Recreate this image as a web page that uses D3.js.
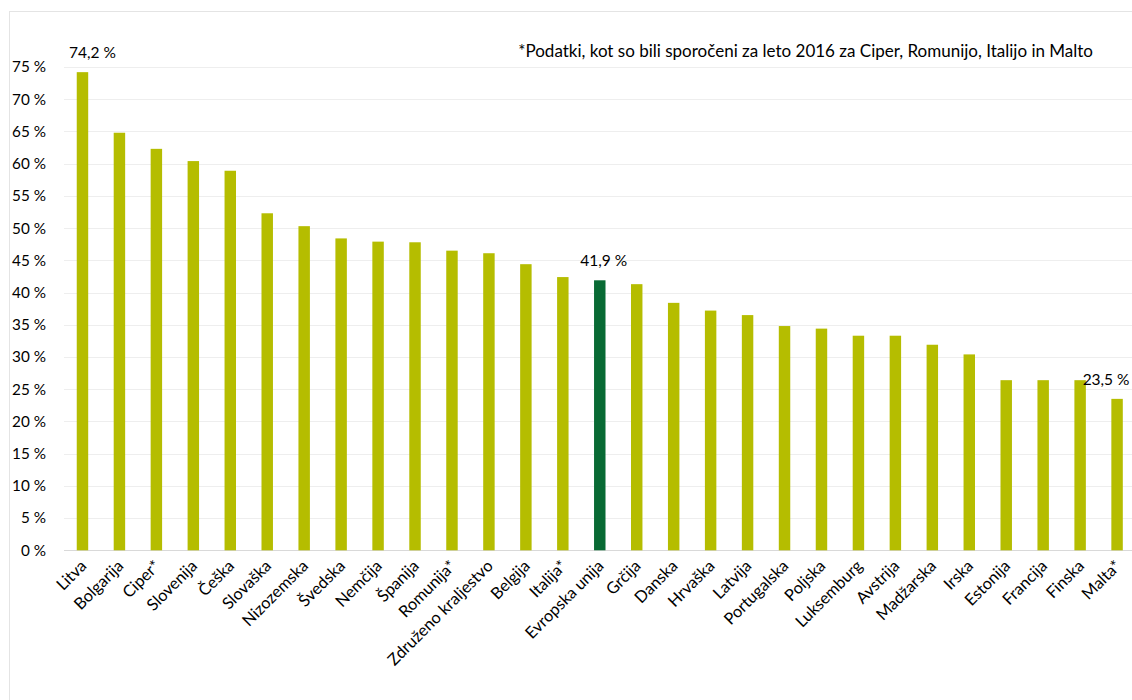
<!DOCTYPE html>
<html>
<head>
<meta charset="utf-8">
<script src="https://cdn.jsdelivr.net/npm/d3@7"></script>
<style>
  body { margin: 0; background: #fff; }
  text { font-family: Lato, "Open Sans", sans-serif; fill: #000; }
</style>
</head>
<body>
<div id="chart"></div>
<script>
const width = 1132;
const height = 700;

// data
const countries = ["Litva", "Bolgarija", "Ciper*", "Slovenija", "Češka", "Slovaška", "Nizozemska",
  "Švedska", "Nemčija", "Španija", "Romunija*", "Združeno kraljestvo", "Belgija", "Italija*",
  "Evropska unija", "Grčija", "Danska", "Hrvaška", "Latvija", "Portugalska", "Poljska",
  "Luksemburg", "Avstrija", "Madžarska", "Irska", "Estonija", "Francija", "Finska", "Malta*"];
const shares = [74.2, 64.8, 62.3, 60.4, 58.9, 52.3, 50.3, 48.4, 47.9, 47.8, 46.5, 46.1, 44.4, 42.4,
  41.9, 41.3, 38.4, 37.2, 36.5, 34.8, 34.4, 33.3, 33.3, 31.9, 30.4, 26.4, 26.4, 26.4, 23.5];
const yTicks = [0, 5, 10, 15, 20, 25, 30, 35, 40, 45, 50, 55, 60, 65, 70, 75];
const labelled = ["Litva", "Evropska unija", "Malta*"];
const highlight = "Evropska unija";
const note = "*Podatki, kot so bili sporočeni za leto 2016 za Ciper, Romunijo, Italijo in Malto";

const margin = {top: 67, left: 64, bottom: 150};
const plotW = 36.95 * countries.length;

const svg = d3.select("#chart")
    .append("svg")
    .attr("width", width)
    .attr("height", height);

// chart frame
svg.append("rect")
    .attr("x", 9.5).attr("y", 11.5)
    .attr("width", width + 20).attr("height", height)
    .attr("fill", "none")
    .attr("stroke", "#e4e4e4");

const x = d3.scaleBand()
    .domain(countries)
    .range([margin.left, margin.left + plotW])
    .paddingInner(0.69)
    .paddingOuter(0.345);

const y = d3.scaleLinear()
    .domain([0, 75])
    .range([550.3, margin.top]);

// gridlines
svg.append("g")
    .selectAll("line")
    .data(yTicks)
    .enter().append("line")
    .attr("x1", margin.left)
    .attr("x2", width)
    .attr("y1", d => Math.round(y(d)) + 0.5)
    .attr("y2", d => Math.round(y(d)) + 0.5)
    .attr("stroke", d => d === 0 ? "#d9d9d9" : "#eeeeee")
    .attr("stroke-width", 1);

// y axis labels
const yAxis = d3.axisLeft(y)
    .tickValues(yTicks)
    .tickSize(0)
    .tickPadding(0)
    .tickFormat(d => d + " %");

svg.append("g")
    .attr("transform", "translate(46,0)")
    .call(yAxis)
    .call(g => g.select(".domain").remove())
    .selectAll("text")
    .style("font-size", "15.3px")
    .style("font-family", "Lato, 'Open Sans', sans-serif");

// bars
svg.append("g")
    .selectAll("rect")
    .data(countries)
    .enter().append("rect")
    .attr("x", d => x(d))
    .attr("y", (d, i) => y(shares[i]))
    .attr("width", x.bandwidth())
    .attr("height", (d, i) => y(0) - y(shares[i]))
    .attr("fill", d => d === highlight ? "#086a34" : "#b5bd00");

// value labels
const labelShift = {"Litva": 10, "Evropska unija": 4, "Malta*": -11};
svg.append("g")
    .selectAll("text")
    .data(labelled)
    .enter().append("text")
    .attr("x", d => x(d) + x.bandwidth() / 2 + labelShift[d])
    .attr("y", d => y(shares[countries.indexOf(d)]) - 14)
    .attr("text-anchor", "middle")
    .style("font-size", "15.5px")
    .text(d => d3.format(".1f")(shares[countries.indexOf(d)]).replace(".", ",") + " %");

// x labels
svg.append("g")
    .selectAll("text")
    .data(countries)
    .enter().append("text")
    .attr("transform", d => `translate(${x(d) + x.bandwidth() / 2 + 5},${567}) rotate(-45)`)
    .attr("text-anchor", "end")
    .style("font-size", "16.3px")
    .text(d => d);

// note
svg.append("text")
    .attr("x", 1093)
    .attr("y", 57)
    .attr("text-anchor", "end")
    .style("font-size", "17px")
    .text(note);
</script>
</body>
</html>
